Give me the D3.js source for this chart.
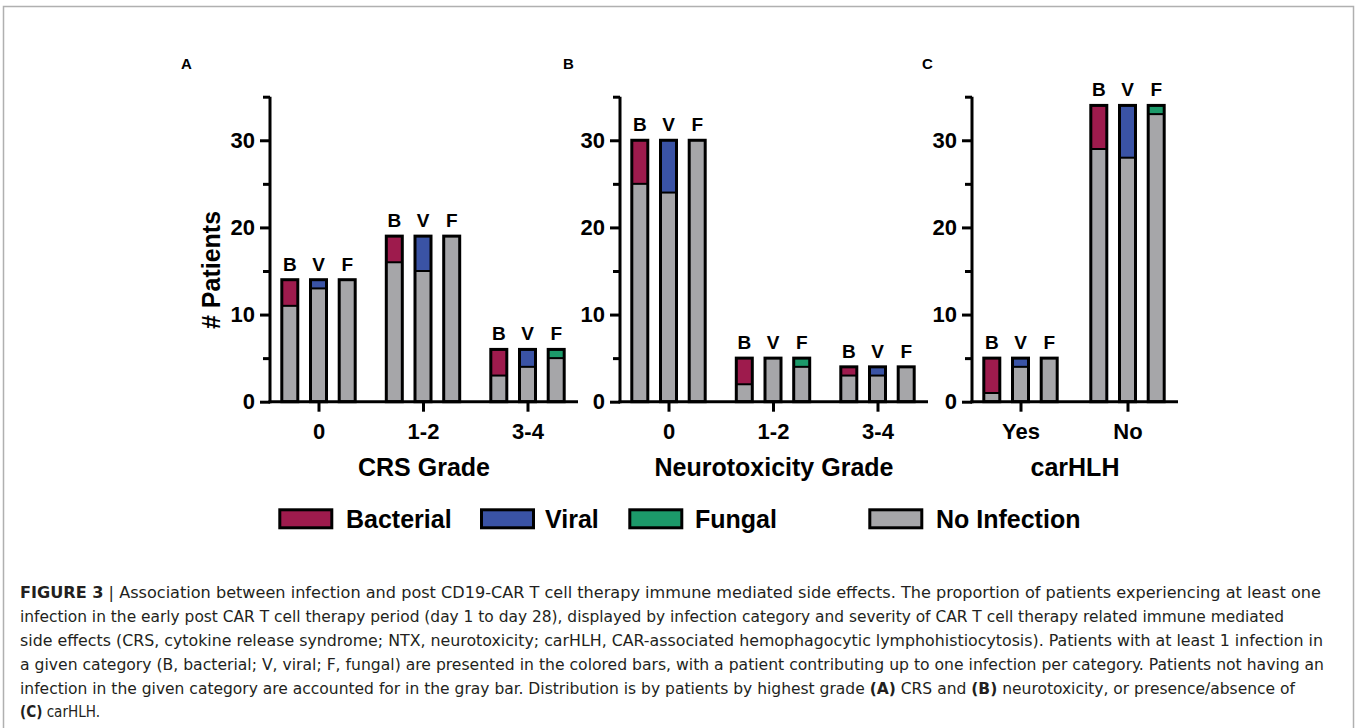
<!DOCTYPE html>
<html>
<head>
<meta charset="utf-8">
<script src="https://cdn.jsdelivr.net/npm/d3@7"></script>
<style>
  html, body { margin: 0; padding: 0; background: #fff; }
  svg { display: block; }
</style>
</head>
<body>
<svg id="chart" width="1357" height="728"></svg>
<script>
// ---------------- DATA ----------------
const seriesKeys = ["B", "V", "F"];
const seriesNames = ["Bacterial", "Viral", "Fungal"];
const noInfectionName = "No Infection";

const crsCategories = ["0", "1-2", "3-4"];
const crsTotal     = [14, 19, 6];
const crsBacterial = [3, 3, 3];
const crsViral     = [1, 4, 2];
const crsFungal    = [0, 0, 1];

const ntxCategories = ["0", "1-2", "3-4"];
const ntxTotal     = [30, 5, 4];
const ntxBacterial = [5, 3, 1];
const ntxViral     = [6, 0, 1];
const ntxFungal    = [0, 1, 0];

const hlhCategories = ["Yes", "No"];
const hlhTotal     = [5, 34];
const hlhBacterial = [4, 5];
const hlhViral     = [1, 6];
const hlhFungal    = [0, 1];

const yTicksMajor = [0, 10, 20, 30];
const yTicksMinor = [5, 15, 25, 35];
const yMax = 35;

const captionLines = [
  [["FIGURE 3", true], [" | Association between infection and post CD19-CAR T cell therapy immune mediated side effects. The proportion of patients experiencing at least one", false]],
  [["infection in the early post CAR T cell therapy period (day 1 to day 28), displayed by infection category and severity of CAR T cell therapy related immune mediated", false]],
  [["side effects (CRS, cytokine release syndrome; NTX, neurotoxicity; carHLH, CAR-associated hemophagocytic lymphohistiocytosis). Patients with at least 1 infection in", false]],
  [["a given category (B, bacterial; V, viral; F, fungal) are presented in the colored bars, with a patient contributing up to one infection per category. Patients not having an", false]],
  [["infection in the given category are accounted for in the gray bar. Distribution is by patients by highest grade ", false], ["(A)", true], [" CRS and ", false], ["(B)", true], [" neurotoxicity, or presence/absence of", false]],
  [["(C)", true], [" carHLH.", false]]
];

// ---------------- STYLE / LAYOUT ----------------
const colors = { B: "#9E1B4D", V: "#3A53A5", F: "#1C9A6A", none: "#A6A6A9" };
const FONT = "'Liberation Sans', Arial, Helvetica, sans-serif";

const svg = d3.select("#chart");

// frame
svg.append("rect").attr("x", 3.5).attr("y", 6.5).attr("width", 1350).attr("height", 800)
  .attr("fill", "none").attr("stroke", "#b0b0b0").attr("stroke-width", 1.5);

const y = d3.scaleLinear().domain([0, yMax]).range([401.7, 96.7]);

const panels = [
  { letter: "A", letterX: 181, x0: 270, x1: 578, cats: crsCategories, total: crsTotal,
    inf: { B: crsBacterial, V: crsViral, F: crsFungal }, title: "CRS Grade", yTitle: true },
  { letter: "B", letterX: 563, x0: 620, x1: 928, cats: ntxCategories, total: ntxTotal,
    inf: { B: ntxBacterial, V: ntxViral, F: ntxFungal }, title: "Neurotoxicity Grade", yTitle: false },
  { letter: "C", letterX: 922, x0: 972, x1: 1178, cats: hlhCategories, total: hlhTotal,
    inf: { B: hlhBacterial, V: hlhViral, F: hlhFungal }, title: "carHLH", yTitle: false }
];

const barW = 16, barStep = 28.7;

panels.forEach(p => {
  const g = svg.append("g");
  const x = d3.scalePoint().domain(p.cats).range([p.x0 + 48.5, p.x1 - 50.5]);
  const xs = d3.scalePoint().domain(seriesKeys).range([-barStep, barStep]);

  // panel letter
  g.append("text").attr("x", p.letterX).attr("y", 69)
    .attr("font-family", FONT).attr("font-weight", "bold").attr("font-size", 15)
    .text(p.letter);

  // bars
  p.cats.forEach((c, i) => {
    const tot = p.total[i];
    seriesKeys.forEach(k => {
      const inf = p.inf[k][i];
      const gray = tot - inf;
      const cx = x(c) + xs(k);
      const bx = cx - barW / 2;
      // gray part
      g.append("rect").attr("x", bx).attr("width", barW)
        .attr("y", y(gray)).attr("height", y(0) - y(gray))
        .attr("fill", colors.none);
      if (inf > 0) {
        g.append("rect").attr("x", bx).attr("width", barW)
          .attr("y", y(tot)).attr("height", y(gray) - y(tot))
          .attr("fill", colors[k]);
        g.append("line").attr("x1", bx).attr("x2", bx + barW)
          .attr("y1", y(gray)).attr("y2", y(gray))
          .attr("stroke", "#000").attr("stroke-width", 2);
      }
      g.append("rect").attr("x", bx).attr("width", barW)
        .attr("y", y(tot)).attr("height", y(0) - y(tot))
        .attr("fill", "none").attr("stroke", "#000").attr("stroke-width", 3);
    });
    // B V F labels
    const gmax = tot;
    seriesKeys.forEach(k => {
      g.append("text").attr("x", x(c) + xs(k)).attr("y", y(gmax) - 9)
        .attr("text-anchor", "middle")
        .attr("font-family", FONT).attr("font-weight", "bold").attr("font-size", 19)
        .text(k);
    });
  });

  // y axis
  const yAxis = g.append("g").attr("transform", `translate(${p.x0},0)`)
    .call(d3.axisLeft(y).tickValues(yTicksMajor).tickSize(10).tickPadding(5).tickSizeOuter(0));
  yAxis.select(".domain").remove();
  yAxis.selectAll(".tick line").attr("stroke-width", 3);
  yAxis.selectAll(".tick text").attr("font-family", FONT).attr("font-weight", "bold")
    .attr("font-size", 22).attr("fill", "#000");
  const yMinor = g.append("g").attr("transform", `translate(${p.x0},0)`)
    .call(d3.axisLeft(y).tickValues(yTicksMinor).tickSize(7).tickFormat(""));
  yMinor.select(".domain").remove();
  yMinor.selectAll(".tick line").attr("stroke-width", 3);
  g.append("line").attr("x1", p.x0).attr("x2", p.x0).attr("y1", y(0) + 1.5).attr("y2", y(yMax))
    .attr("stroke", "#000").attr("stroke-width", 3);

  // x axis
  const xAxis = g.append("g").attr("transform", `translate(0,${y(0)})`)
    .call(d3.axisBottom(x).tickSize(10).tickPadding(12).tickSizeOuter(0));
  xAxis.select(".domain").remove();
  xAxis.selectAll(".tick line").attr("stroke-width", 3);
  xAxis.selectAll(".tick text").attr("font-family", FONT).attr("font-weight", "bold")
    .attr("font-size", 22).attr("fill", "#000");
  g.append("line").attr("x1", p.x0 - 1.5).attr("x2", p.x1).attr("y1", y(0)).attr("y2", y(0))
    .attr("stroke", "#000").attr("stroke-width", 3);

  // x title
  g.append("text").attr("x", (p.x0 + p.x1) / 2).attr("y", 476)
    .attr("text-anchor", "middle")
    .attr("font-family", FONT).attr("font-weight", "bold").attr("font-size", 25)
    .text(p.title);

  if (p.yTitle) {
    g.append("text").attr("transform", "translate(220,270) rotate(-90)")
      .attr("text-anchor", "middle")
      .attr("font-family", FONT).attr("font-weight", "bold").attr("font-size", 25)
      .text("# Patients");
  }
});

// legend
const legendItems = [
  { name: seriesNames[0], color: colors.B, bx: 279.8, tx: 346 },
  { name: seriesNames[1], color: colors.V, bx: 481.5, tx: 545 },
  { name: seriesNames[2], color: colors.F, bx: 629.8, tx: 695 },
  { name: noInfectionName, color: colors.none, bx: 869.8, tx: 936 }
];
const lg = svg.append("g");
legendItems.forEach(it => {
  lg.append("rect").attr("x", it.bx).attr("y", 509.8).attr("width", 52).attr("height", 18)
    .attr("fill", it.color).attr("stroke", "#000").attr("stroke-width", 3);
  lg.append("text").attr("x", it.tx).attr("y", 528)
    .attr("font-family", FONT).attr("font-weight", "bold").attr("font-size", 25)
    .text(it.name);
});

// caption
const capBase = [598, 622, 646, 670, 694, 717];
const capEnd = [1321, 1284, 1323, 1324, 1295, 100];
const capX = 20;
captionLines.forEach((parts, i) => {
  const t = svg.append("text").attr("x", capX).attr("y", capBase[i])
    .attr("font-family", "'Liberation Sans Narrow', 'DejaVu Sans Condensed', 'Liberation Sans', sans-serif")
    .attr("font-size", 16.5).attr("fill", "#231f20")
    .attr("textLength", capEnd[i] - capX).attr("lengthAdjust", "spacingAndGlyphs");
  parts.forEach(([s, b]) => {
    t.append("tspan").attr("font-weight", b ? "bold" : "normal").text(s);
  });
});
</script>
</body>
</html>
